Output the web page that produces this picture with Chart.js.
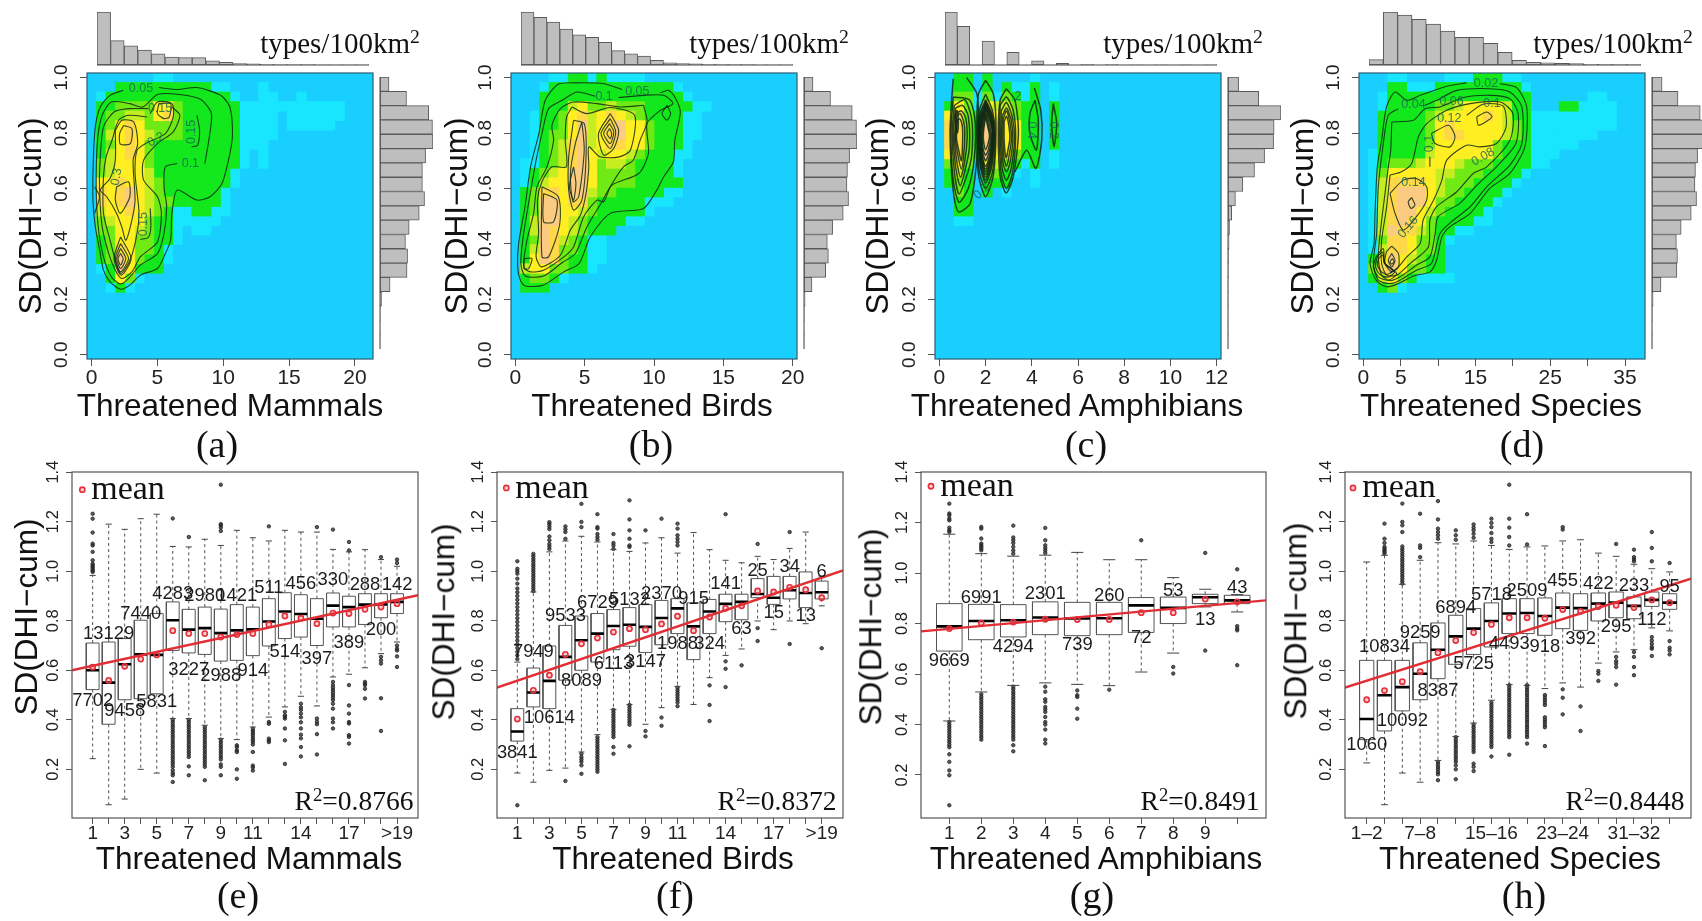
<!DOCTYPE html>
<html>
<head>
<meta charset="utf-8">
<title>SD(DHI-cum) vs threatened species</title>
<script src="https://cdn.jsdelivr.net/npm/chart.js@4/dist/chart.umd.min.js"></script>
<style>
html, body { margin: 0; padding: 0; background: #fff; overflow: hidden; }
#page { position: relative; width: 1702px; height: 921px; overflow: hidden; filter: blur(0.5px); }
#page canvas { position: absolute; }
.lab { position: absolute; white-space: nowrap; color: #111; transform: translate(-50%, -50%); line-height: 1; }
.sans { font-family: "Liberation Sans", Arial, sans-serif; }
.serif { font-family: "Liberation Serif", "Times New Roman", serif; }
.lab sup { font-size: 68%; line-height: 0; vertical-align: baseline; position: relative; top: -0.5em; }
</style>
</head>
<body>
<div id="page"></div>
<script>
// density levels, one string per row from the top, one digit per column. missing = 0
const levelColors = ['#19CFFF', '#18E6FF', '#12E81C', '#70EA14', '#C6EC22', '#FFEE22', '#FFD84A', '#FACB80'];

const gridMammals = [
  '00000001100000000000000000',
  '000222222222211000100000000000',
  '012222222222222100110010000000',
  '022333355322222211111111111000',
  '023344356322222211110111111000',
  '023565333322222211110111110000',
  '024565433322222211110000000000',
  '023565322222222211100000000000',
  '024565322222222210100000000000',
  '034555322222222210100000000000',
  '0345554222222221',
  '0556554322222221',
  '065675432222221',
  '065675433222221',
  '045565432112211',
  '03455532211111',
  '0335543221011',
  '0235533221',
  '023653321',
  '023753221',
  '01275222',
  '002531',
  '00121'
];
const gridBirds = [
  '000011221211110',
  '000122222222222221',
  '0002222222222222221',
  '000222453343332222211',
  '00122356456543222211',
  '00122357456755322211',
  '00123357456755322211',
  '0012346745665532221',
  '001234675455432 2211'.replace(' ', ''),
  '011234675344322221',
  '012345775333322221',
  '012455775333322222',
  '023665774332222211',
  '02377566322222111',
  '023775543222221',
  '02477543222211',
  '02476543222',
  '0237643211',
  '0247633211',
  '0257632211',
  '045533221',
  '023321',
  '0222'
];
const gridAmphibians = [
  '00220200001',
  '0022020211201',
  '0033131321201',
  '0253154432202',
  '0563275532202',
  '0663276552202',
  '0663276552202',
  '0663276552202',
  '0563275532201',
  '0353054321201',
  '02420332101',
  '02320222001',
  '00320201',
  '0022',
  '0022',
  '0011'
];
const gridSpecies = [
  '00011000011122211',
  '000221112222222221',
  '00122222222222222200000011',
  '001222223345555422000221111',
  '002222234555565422111111111',
  '002222235655555432111111111',
  '0022222356655554321111111',
  '00222223555555322211111',
  '012222245555553222111',
  '01233345554333222211',
  '013555554433322221',
  '01466665433322221',
  '0146777543322221',
  '0146777533222210',
  '01467754322221',
  '01467653222211',
  '014766432211',
  '0136653321',
  '014665332',
  '025754322',
  '036753322',
  '0245321111',
  '00231'
];

// contours in data units, flat x,y pairs
const contoursMammals = [
  [2.4,.954,1.4,.936,.66,.894,.28,.822,.13,.702,.1,.558,.28,.462,.66,.365,.9,.305,1.4,.263,2.2,.236,2.9,.251,3.7,.287,5,.311,5.6,.365,6,.413,6.1,.51,6.5,.594,8,.558,9,.57,9.9,.618,10.5,.726,10.7,.798,10.5,.894,9.8,.936,8,.964,6.5,.957,5.1,.964],
  [6.5,.69,5.6,.678,5.5,.606,5.7,.534,5.5,.438,5,.365,3.7,.323,2.8,.275,2.2,.255,1.5,.281,.9,.353,.5,.462,.35,.606,.45,.774,.8,.864,1.5,.912,2.9,.906,3.9,.894,5,.939,6.7,.939,8.3,.921,9.1,.87,8.9,.774,8.6,.69],
  [8,.864,8.2,.81,8.05,.756,7.6,.75],
  [4.3,.888,2.8,.888,1.7,.876,.9,.822,.66,.714,.6,.606,.8,.462,1.3,.365,1.8,.305,2.3,.275,3.06,.299,3.7,.353,5,.407,5.3,.51,5,.57,3.95,.63,3.95,.702,5,.762,6.2,.804,6.7,.864,6.1,.894],
  [4.45,.528,4.5,.461,4.3,.423,3.7,.416],
  [4.2,.858,2.8,.864,2.05,.846,1.55,.774,1.1,.714,.9,.642,.9,.51,1.4,.413,1.8,.341,2.2,.293,2.8,.329,3.3,.401,3.6,.51,3.3,.654,3.45,.738,4.1,.762,5.6,.798,6.2,.858,6.1,.906,5,.912,4.45,.87],
  [1.8,.81,2.3,.846,3.2,.84,3.5,.762,3.15,.702,3.3,.558,3.06,.486,2.6,.413,2.3,.46,1.9,.51,1.15,.57,.66,.594,1.4,.636,1.8,.702,1.8,.81],
  [2.43,.827,3.06,.816,2.94,.762,2.18,.76,2.13,.798,2.43,.827],
  [1.9,.606,2.8,.624,2.9,.57,2.18,.51,1.8,.558,1.9,.606],
  [5.1,.906,6,.906,5.9,.858,5.5,.852,5,.87,5.1,.906],
  [2.2,.425,3,.347,2.25,.287,1.7,.347,2.2,.425],
  [2.2,.401,2.8,.347,2.2,.299,1.8,.347,2.2,.401],
  [2.2,.383,2.6,.347,2.2,.311,1.9,.347,2.2,.383],
  [2.2,.365,2.4,.347,2.2,.323,2,.347,2.2,.365],
  [.23,.606,.6,.57,.23,.51]
];
const contoursBirds = [
  [7.7,.957,6.4,.978,4.45,.981,3.1,.976,2.16,.918,1.7,.798,1.1,.678,.7,.534,.24,.401,.17,.317,.36,.269,.72,.248,2,.251,3.5,.299,4.6,.329,5.4,.425,6.85,.51,9.25,.528,10.2,.594,10.7,.642,11.4,.696,11.5,.774,11.9,.876,11.5,.93,11.05,.954,10.45,.945],
  [5.77,.933,4.45,.948,3.37,.918,2.4,.888,1.92,.798,1.5,.702,1.08,.582,.6,.437,.4,.329,.72,.284,2.04,.284,3.37,.332,4.33,.365,5.17,.462,6.25,.552,6.97,.612,8.9,.654,9.6,.726,9.5,.834,10.46,.882,11.37,.906,10.7,.936,9.25,.936,7.45,.928],
  [9.25,.9,7.57,.894,5.9,.906,4.2,.912,3.25,.888,2.64,.828,2.76,.774,2.28,.678,1.56,.606,1.32,.51,.84,.413,.6,.317,1.08,.299,2.04,.305,3.5,.353,4.2,.389,4.93,.498,5.9,.558,6.37,.552,6.85,.606,7.8,.678,8.5,.702,9,.774,9.5,.84,9.25,.9],
  [4.09,.894,3.7,.858,3.6,.774,3.68,.678,2.64,.678,1.92,.624,1.6,.558,1.68,.437,1.5,.353,1.9,.317,3.25,.359,3.97,.45,4.7,.504,5.1,.582,5.3,.678,5.3,.75,6.1,.714,7.5,.714,8.3,.738,8.6,.864,6.85,.892,5.17,.87,4.09,.894],
  [6.85,.87,7.45,.81,7.1,.744,6.37,.72,6,.798,6.85,.87],
  [6.85,.852,7.24,.804,6.85,.744,6.18,.798,6.85,.852],
  [6.8,.834,7.1,.804,6.85,.762,6.37,.798,6.8,.834],
  [6.8,.816,6.95,.798,6.85,.78,6.6,.798,6.8,.816],
  [4.2,.846,4.97,.834,5.1,.714,4.8,.558,4.2,.522,3.85,.594,3.85,.714,4.2,.846],
  [4.8,.84,4.97,.738,4.57,.57,4.16,.552,3.97,.654,4.33,.762,4.8,.84],
  [4.2,.678,4.37,.618,4.2,.558,3.9,.606,4.2,.678],
  [2.04,.582,3,.558,2.76,.48,2.04,.48,2.04,.582],
  [1.92,.606,3.1,.57,3.2,.47,2.4,.353,1.92,.353,1.92,.606],
  [.65,.347,1.2,.347,.96,.311,.65,.311,.65,.347],
  [10.94,.9,11.2,.87,10.94,.846,10.58,.87,10.94,.9]
];
const contoursAmphibians = [
  [.6,.996,.53,.918,.46,.798,.58,.606,.82,.516,1.33,.546,1.59,.678,1.69,.834,1.62,.942,1.18,1],
  [.6,.93,.5,.8,.6,.63,.85,.55,1.25,.6,1.5,.7,1.55,.84,1.3,.92,.6,.93],
  [.65,.9,.55,.8,.65,.66,.85,.58,1.2,.65,1.4,.72,1.4,.85,1.1,.92,.65,.9],
  [.7,.89,.6,.8,.7,.68,.9,.61,1.15,.68,1.3,.75,1.25,.86,1,.9,.7,.89],
  [.72,.87,.66,.78,.75,.7,.92,.64,1.1,.7,1.2,.78,1.15,.85,.95,.88,.72,.87],
  [.75,.86,.7,.78,.8,.72,.95,.67,1.05,.72,1.1,.8,1.05,.84,.9,.87,.75,.86],
  [.78,.85,.74,.78,.83,.74,.95,.7,1,.75,1,.82,.9,.85,.78,.85],
  [.72,.88,.7,.84,.78,.8,.82,.84,.78,.88,.72,.88],
  [2,.99,2.34,.94,2.45,.82,2.34,.65,2,.57,1.69,.65,1.62,.83,1.69,.94,2,.99],
  [2,.94,2.3,.88,2.42,.8,2.3,.66,2,.6,1.73,.66,1.65,.8,1.72,.88,2,.94],
  [2,.92,2.27,.87,2.38,.8,2.27,.68,2,.62,1.77,.68,1.69,.8,1.76,.87,2,.92],
  [2,.915,2.26,.865,2.37,.8,2.26,.69,2,.63,1.78,.69,1.7,.8,1.78,.865,2,.915],
  [2,.91,2.25,.86,2.35,.8,2.25,.7,2,.64,1.8,.7,1.72,.8,1.8,.86,2,.91],
  [2,.905,2.23,.855,2.33,.8,2.23,.705,2,.65,1.82,.705,1.74,.8,1.82,.855,2,.905],
  [2,.9,2.22,.85,2.32,.8,2.22,.71,2,.66,1.83,.71,1.75,.8,1.84,.85,2,.9],
  [2,.895,2.21,.845,2.31,.8,2.2,.715,2,.67,1.84,.715,1.77,.8,1.85,.845,2,.895],
  [2,.89,2.2,.84,2.3,.8,2.18,.72,2,.68,1.85,.72,1.78,.8,1.86,.84,2,.89],
  [2,.88,2.17,.83,2.26,.79,2.15,.73,2,.7,1.88,.73,1.82,.79,1.88,.83,2,.88],
  [2,.87,2.14,.82,2.22,.79,2.12,.74,2,.72,1.9,.74,1.85,.79,1.9,.82,2,.87],
  [2,.86,2.1,.82,2.17,.79,2.1,.76,2,.74,1.93,.76,1.9,.79,1.93,.82,2,.86],
  [2.9,.96,3.27,.918,3.42,.798,3.2,.642,2.89,.584,2.63,.642,2.55,.798,2.63,.918,2.9,.96],
  [4.11,.963,4.39,.882,4.43,.774,4.18,.672,3.78,.738,3.27,.66],
  [4.14,.918,4.28,.846,4.2,.738,3.92,.798,3.92,.87,4.14,.918],
  [4.93,.906,5.08,.834,4.96,.75,4.86,.834,4.93,.906],
  [2.63,.9,2.9,.93,3.2,.88,3.3,.78,3.15,.65,2.9,.6,2.68,.65,2.6,.78,2.63,.9],
  [2.68,.88,2.9,.91,3.15,.86,3.25,.78,3.1,.67,2.9,.63,2.72,.67,2.65,.78,2.68,.88],
  [2.72,.86,2.9,.89,3.1,.85,3.18,.78,3.05,.69,2.9,.66,2.76,.69,2.7,.78,2.72,.86],
  [2.76,.85,2.9,.88,3.05,.84,3.12,.78,3,.71,2.9,.68,2.8,.71,2.75,.78,2.76,.85],
  [2.8,.84,2.9,.86,3,.83,3.05,.78,2.95,.73,2.9,.71,2.84,.73,2.8,.78,2.8,.84]
];
const contoursSpecies = [
  [13.8,.981,11.15,.969,7.6,.936,5.8,.918,4.24,.948,3.1,.894,2.45,.774,1.87,.678,1.56,.51,1.43,.401,.9,.329,1.7,.269,3.1,.245,4.7,.257,6.7,.284,8.9,.299,9.8,.341,10.5,.425,11.6,.462,14.3,.51,16.9,.6,19.6,.654,21.6,.75,21.85,.894,20.5,.964,18.3,.978],
  [4.7,.888,3.34,.864,2.67,.762,2,.606,1.78,.4375,1.34,.329,2,.269,3.57,.257,4.9,.269,7.1,.305,9.1,.329,10.25,.4375,11.8,.48,14.3,.534,16.5,.606,19.6,.684,21.2,.762,21.2,.894,19.6,.948,16.9,.96,12.5,.954,9.8,.918,8.25,.9],
  [3.8,.84,6.7,.846,8.25,.888,10.25,.894,13.4,.928,16.9,.936,19.6,.924,20.7,.87,20.4,.762,17.8,.678,15.2,.612,12.9,.546,10,.498,9.6,.4375,8.9,.353,7.1,.323,4.9,.281,3.57,.267,2.45,.287,2,.353,2.3,.45,2.9,.582,3.34,.678,3.66,.738,3.8,.84],
  [3.57,.648,5.1,.66,6.46,.69,7.36,.786,8.47,.834,11.15,.882,14.27,.906,18.3,.912,20,.87,19.6,.774,16.5,.678,14.7,.654,12.5,.588,9.8,.534,8.9,.486,8.7,.389,6.24,.329,4.46,.287,3.12,.287,2.45,.329,2.45,.413,3.12,.534,3.57,.648],
  [13.82,.864,16,.904,18.7,.897,19.1,.822,17.8,.762,15.6,.75,13.8,.756,11.15,.702,10.5,.63,9.4,.558,8,.486,7.6,.401,5.8,.353,4.7,.317,3.57,.293],
  [3.57,.582,5.35,.63,7.1,.636,8.47,.606,8.47,.558,7.1,.498,5.35,.45,4.24,.51,3.57,.582],
  [6.46,.567,6.9,.54,6.37,.528,6,.552,6.46,.567],
  [9.1,.798,11.4,.828,12.26,.786,11.6,.75,9.6,.762,9.1,.798],
  [15.16,.858,16.5,.876,17.2,.858,15.4,.828,15.16,.858],
  [8.9,.714,8.9,.678],
  [3.8,.392,4.7,.365,4.7,.317,3.8,.299,2.9,.329,3.1,.371,3.8,.392],
  [3.8,.365,4.24,.341,3.8,.317,3.34,.341,3.8,.365],
  [3.9,.347,4.1,.335,3.8,.327,3.57,.335,3.9,.347],
  [1.7,.353,2.67,.383,2.9,.329,4.46,.293,3.34,.269,2,.281,1.34,.317,1.7,.353],
  [1.9,.355,2.6,.37,2.85,.33,4.2,.3,3.3,.28,2.2,.29,1.6,.32,1.9,.355],
  [2.1,.35,2.6,.36,2.8,.33,3.9,.305,3.2,.29,2.4,.3,1.85,.325,2.1,.35]
];

// small labels sitting on the contours: text, x, y, rotation
const contourLabelsMammals = [['0.05',3.75,.959,0],['0.15',5.2,.888,0],['0.2',4.9,.776,-30],['0.15',7.6,.804,-90],['0.1',7.5,.69,0],['0.3',1.9,.642,-80],['0.15',3.95,.471,-90]];
const contourLabelsBirds = [['0.1',6.4,.93,0],['0.05',8.8,.948,0]];
const contourLabelsAmphibians = [['2',3.4,.93,0],['0.4',4,.81,90],['0.2',4.92,.81,90],['0.2',1.83,.59,-45]];
const contourLabelsSpecies = [['0.02',16.4,.978,0],['0.04',6.7,.903,0],['0.06',11.8,.915,0],['0.1',17.2,.906,0],['0.12',11.5,.852,0],['0.14',6.7,.62,0],['0.16',6,.46,-50],['0.08',16,.714,-30],['0.1',8.9,.762,-90]];

// marginal histograms, relative frequency
const topMammals = [100,46,36,28,21,15,14,14,8,5,2.5,2,1.5,1,1,.7,.5,.5,.3,.3];
const topBirds = [100,90,81,68,57,52,43,27,21,17,9,4,2.5,2,1.2,.6,.6,.6,.3,.3,.3];
const topAmphibians = [100,73,0,45,0,24,0,8,0,3,0,1.2,0,.6,0,.4,0,.2,0,.2,0,.2];
const topSpecies = [10,100,94,86,77,64,52,52,41,24,9,5,4,3,2.5,1.2,1.2,.6,.6];
const rightMammals = [17,50,92,99,100,86,80,80,84,74,55,48,52,51,19,3,.6,.3,.3];
const rightBirds = [17,50,91,99,100,86,82,81,84,74,54,44,46,41,15,2,.6,.3,.3];
const rightAmphibians = [20,58,100,87,86,69,50,28,14,7,3,2,1.2,.6,.3,.3,.2,.2,.2];
const rightSpecies = [19,49,91,99,100,86,82,81,84,74,55,46,48,47,17,2,.6,.3,.3];

// boxplots
const mammalQ1 = [.522,.382,.481,.485,.505,.68,.67,.664,.637,.64,.659,.698,.728,.734,.7,.775,.775,.785,.812,.829];
const mammalMedian = [.6,.55,.624,.664,.662,.802,.764,.77,.75,.761,.765,.797,.837,.827,.808,.861,.855,.865,.866,.876];
const mammalQ3 = [.71,.714,.728,.802,.829,.876,.846,.855,.847,.865,.855,.889,.913,.905,.889,.912,.899,.909,.909,.909];
const mammalLow = [.243,.057,.08,.2,.185,.405,.405,.378,.324,.32,.371,.411,.452,.495,.456,.573,.584,.61,.667,.714];
const mammalHigh = [.983,1.19,1.169,1.212,1.23,1.1,1.098,1.129,1.104,1.165,1.135,1.122,1.165,1.158,1.158,1.088,1.078,1.087,1.047,1.02];
const mammalMean = [.613,.559,.616,.645,.662,.76,.748,.748,.734,.744,.748,.785,.819,.81,.788,.831,.829,.846,.855,.869];
const mammalOut = [
  [1.232,1.212,1.156,1.111,1.104,1.078,1.044,1.03,1.023,1.017,1.01,1.003,.997],[],[],[],[],
  [1.213,.4,.39,.38,.37,.36,.35,.34,.33,.32,.31,.3,.29,.28,.27,.26,.25,.24,.23,.22,.21,.196,.185,.176,.149],
  [1.138,.4,.39,.38,.37,.36,.35,.34,.33,.32,.31,.3,.29,.28,.27,.26,.25,.212,.176],
  [.37,.36,.35,.34,.33,.32,.31,.3,.29,.28,.27,.26,.25,.24,.23,.22,.21,.156],
  [1.349,1.19,1.185,1.176,1.162,.32,.31,.3,.29,.28,.27,.26,.25,.24,.22,.21,.176],
  [.297,.29,.277,.27,.2,.162],
  [.364,.355,.346,.337,.328,.319,.31,.3,.27,.215,.208,.195],
  [1.181,.391,.384,.324,.317,.31],
  [.432,.418,.412,.405,.365,.317,.222],
  [.465,.45,.44,.425,.41,.39,.365,.34,.325,.29,.252],
  [1.178,.405,.392,.382,.342,.26],
  [1.168,.553,.54,.53,.52,.51,.5,.49,.48,.465,.445,.405,.39,.365],
  [1.118,1.084,.54,.458,.425,.391,.385,.338,.331,.304],
  [.553,.546,.54,.525,.486],
  [1.057,.654,.64,.627,.487,.355],
  [1.047,1.033,.7,.687,.68,.656,.613]
];
const mammalCount = [7702,13129,9458,7440,5831,4283,3227,2980,2988,1421,914,511,514,456,397,330,389,288,200,142];
const mammalCountY = [.476,.748,.434,.829,.472,.909,.602,.899,.577,.901,.596,.933,.676,.947,.647,.963,.711,.943,.761,.943];

const birdQ1 = [.314,.452,.445,.56,.6,.633,.683,.697,.672,.703,.748,.643,.748,.796,.804,.893,.866,.888,.853,.888];
const birdMedian = [.353,.51,.557,.654,.721,.748,.779,.784,.775,.811,.85,.777,.837,.868,.876,.908,.893,.923,.912,.915];
const birdQ3 = [.445,.609,.698,.781,.819,.829,.845,.853,.865,.882,.889,.872,.886,.907,.907,.97,.979,.979,.997,.96];
const birdLow = [.185,.148,.196,.205,.27,.34,.442,.462,.382,.449,.535,.462,.57,.66,.686,.799,.764,.799,.788,.86];
const birdHigh = [.633,.916,1.078,1.122,1.141,1.118,1.087,1.08,1.114,1.135,1.073,1.156,1.087,1.044,1.034,1.06,1.047,1.092,1.158,.98];
const birdMean = [.403,.519,.58,.664,.707,.73,.754,.768,.764,.787,.818,.76,.815,.85,.86,.92,.916,.935,.925,.893];
const birdOut = [
  [1.04,1.01,1,.99,.97,.95,.93,.915,.9,.885,.87,.855,.84,.825,.81,.795,.78,.765,.75,.735,.72,.705,.69,.675,.66,.645,.055],
  [1.07,1.06,1.05,1.04,1.03,1.02,1.01,1,.99,.98,.97,.96,.95,.94,.93,.92],
  [1.198,1.19,1.18,1.17,1.14,1.125,1.11,1.1,1.09],
  [1.181,1.169,1.158,1.131,.153],
  [1.272,1.199,1.178,.263,.25,.24,.23,.216,.182],
  [1.23,1.178,1.172,1.15,1.138,1.127,.33,.32,.31,.3,.29,.28,.27,.26,.25,.24,.23,.22,.21,.2,.19],
  [1.15,1.114,1.104,1.09,.44,.43,.42,.41,.4,.39,.38,.37,.36,.35,.34,.33,.29,.263],
  [1.286,1.209,1.165,1.131,1.104,1.098,.46,.45,.44,.43,.42,.41,.4,.39,.38,.293],
  [1.165,.355,.333],
  [1.212,.409,.376],
  [1.192,1.172,1.145,1.131,1.118,1.104,.53,.52,.51,.5,.49,.48,.47,.455],
  [],
  [.539,.46,.395],
  [1.23,.636,.606,.532],
  [.62],
  [1.11,.77,.718],
  [],
  [1.158,.706],
  [],
  [.689]
];
const birdCount = [3841,7949,10614,9533,8089,6729,6113,5132,3147,2370,1988,915,324,141,63,25,15,34,13,6];
const birdCountY = [.266,.674,.409,.819,.555,.872,.627,.882,.633,.907,.707,.889,.707,.947,.765,1.003,.833,1.017,.819,.997];

const amphibianQ1 = [.691,.736,.747,.756,.752,.756,.765,.8,.879,.879];
const amphibianMedian = [.789,.81,.813,.824,.82,.821,.872,.862,.904,.892];
const amphibianQ3 = [.879,.876,.875,.886,.884,.884,.903,.905,.916,.912];
const amphibianLow = [.414,.529,.555,.565,.559,.554,.608,.683,.866,.846];
const amphibianHigh = [1.154,1.077,1.067,1.071,1.082,1.053,1.053,.982,.936,.915];
const amphibianMean = [.78,.802,.806,.817,.816,.816,.843,.843,.897,.886];
const amphibianOut = [
  [1.275,1.236,1.229,1.216,1.209,1.18,1.17,1.163,.41,.4,.39,.38,.37,.36,.35,.34,.33,.32,.31,.282,.252,.218,.199,.08],
  [1.183,1.176,1.137,1.117,1.11,1.104,1.097,1.09,.52,.51,.5,.49,.48,.47,.46,.45,.44,.43,.42,.41,.4,.39,.38,.37,.36,.35,.34],
  [1.188,1.141,1.13,1.119,1.104,1.09,1.077,.55,.54,.53,.52,.51,.5,.49,.48,.47,.46,.45,.44,.43,.42,.41,.4,.39,.38,.37,.36,.35,.34,.318,.294],
  [1.179,1.13,1.11,1.1,1.09,1.08,.55,.53,.5,.49,.47,.46,.45,.43,.41,.4,.38,.34,.325],
  [.535,.516,.509,.463,.423],
  [.538],
  [1.13],
  [.628,.602],
  [1.08,.693],
  [1.015,.79,.78,.773,.635]
];
const amphibianCount = [9669,6991,4294,2301,739,260,72,53,13,43];
const amphibianCountY = [.652,.901,.707,.919,.714,.909,.744,.928,.816,.942];

const speciesQ1 = [.32,.355,.436,.481,.566,.624,.664,.694,.748,.748,.741,.768,.761,.799,.812,.808,.858,.846];
const speciesMedian = [.403,.499,.532,.586,.683,.737,.768,.799,.829,.831,.819,.853,.851,.869,.873,.86,.884,.873];
const speciesQ3 = [.64,.64,.64,.711,.791,.822,.849,.872,.889,.889,.892,.912,.909,.912,.916,.896,.916,.909];
const speciesLow = [.226,.057,.185,.148,.236,.333,.387,.479,.542,.539,.526,.549,.532,.629,.674,.683,.771,.759];
const speciesHigh = [1.037,1.064,.947,1.044,1.115,1.11,1.122,1.104,1.088,1.098,1.102,1.122,1.127,1.073,1.06,1.028,1.01,.997];
const speciesMean = [.481,.518,.554,.594,.671,.72,.752,.785,.812,.812,.81,.845,.838,.857,.862,.853,.884,.873];
const speciesOut = [
  [],
  [1.192,1.131,1.114,1.098,1.091,1.084,1.078,1.071],
  [1.273,1.199,1.185,1.158,1.1,1.09,1.08,1.07,1.06,1.05,1.04,1.03,1.02,1.01,1,.99,.98,.97,.96,.95],
  [1.232,1.104,1.094,1.057],
  [1.283,1.209,1.172,1.158,1.145,1.131,.23,.22,.21,.2,.19,.18,.156],
  [1.165,1.145,1.127,.33,.32,.31,.3,.29,.28,.27,.26,.25,.24,.23,.216,.2,.16],
  [1.189,1.176,1.165,1.151,1.135,.38,.37,.36,.35,.34,.33,.32,.31,.3,.29,.28,.27,.223,.21,.193],
  [1.212,1.195,1.178,1.154,1.131,1.118,.47,.46,.45,.44,.43,.42,.41,.4,.39,.38,.37,.36,.35,.34,.33,.32,.31,.3,.29,.252],
  [1.349,1.212,1.176,1.138,1.104,.54,.53,.52,.51,.5,.49,.48,.47,.46,.45,.44,.43,.42,.41,.4,.39,.38,.37,.36,.35,.34,.33,.259],
  [1.23,1.108,.54,.53,.52,.51,.5,.49,.48,.47,.46,.45,.44,.43,.42,.41,.4,.39,.38,.37,.36,.35,.34,.33,.304],
  [.5,.49,.48,.47,.46,.41,.4,.39,.38,.37,.294],
  [1.178,1.168,.523,.489,.422],
  [.454,.355],
  [.597,.586,.557],
  [1.11,.654,.637,.627,.613,.542],
  [1.087,1.057,1.048,1.04,.674,.654,.613,.58],
  [1.158,1.094,1.04,.734,.72,.707,.694,.687,.658],
  [1.033,.718,.691,.68,.664]
];
const speciesCount = [1060,10834,10092,9259,8387,6894,5725,5718,4493,2509,918,455,392,422,295,233,112,95];
const speciesCountY = [.3,.694,.395,.75,.516,.853,.624,.905,.705,.92,.694,.959,.725,.947,.775,.939,.802,.936];

// regression lines: x, y at both ends of the plot
const fitMammals = [-.29,.6,21.31,.903];
const fitBirds = [-.27,.53,21.33,1.003];
const fitAmphibians = [.115,.769,10.9,.892];
const fitSpecies = [-.217,.53,19.2,.97];

const page = document.getElementById('page');
const marginT = 20, marginR = 24;
const heatYMin = -.0155, heatYMax = 1.0166;

function addText(html, x, y, size, family, rot) {
    const el = document.createElement('div');
    el.className = 'lab ' + family;
    el.innerHTML = html;
    el.style.left = x + 'px';
    el.style.top = y + 'px';
    el.style.fontSize = size + 'px';
    if (rot) el.style.transform = 'translate(-50%, -50%) rotate(' + rot + 'deg)';
    page.appendChild(el);
}

function addCanvas(left, top, w, h) {
    const c = document.createElement('canvas');
    c.width = w;
    c.height = h;
    c.style.left = left + 'px';
    c.style.top = top + 'px';
    c.style.width = w + 'px';
    c.style.height = h + 'px';
    page.appendChild(c);
    return c;
}

// outline of the plot area
const framePlugin = (color) => ({
    id: 'frame',
    afterDraw(chart) {
        const a = chart.chartArea, ctx = chart.ctx;
        ctx.save();
        ctx.strokeStyle = color;
        ctx.lineWidth = 1.2;
        ctx.strokeRect(a.left, a.top, a.right - a.left, a.bottom - a.top);
        ctx.restore();
    }
});

// text at data positions
const notesPlugin = (items, font, color) => ({
    id: 'notes',
    afterDatasetsDraw(chart) {
        const ctx = chart.ctx, sx = chart.scales.x, sy = chart.scales.y;
        ctx.save();
        ctx.font = font;
        ctx.fillStyle = color;
        ctx.textAlign = 'center';
        ctx.textBaseline = 'middle';
        items.forEach(([t, x, y, rot]) => {
            ctx.save();
            ctx.translate(sx.getPixelForValue(x), sy.getPixelForValue(y));
            if (rot) ctx.rotate(rot * Math.PI / 180);
            ctx.fillText(t, 0, 0);
            ctx.restore();
        });
        ctx.restore();
    }
});

// shared axes with R look: fixed margins so the plot area lands where it should
function axes(o) {
    return {
        x: {
            type: 'linear', min: o.xMin, max: o.xMax,
            afterBuildTicks: s => { s.ticks = o.xTicks.map(v => ({ value: v })); },
            afterFit: s => { s.height = o.marginB; },
            grid: { drawOnChartArea: false, tickLength: o.tick, color: '#555' },
            border: { display: false },
            ticks: {
                autoSkip: false, maxRotation: 0, minRotation: 0, padding: o.xPad, color: '#222',
                font: { family: 'Liberation Sans', size: o.xFont },
                callback: v => (o.xLabels[v] !== undefined ? o.xLabels[v] : '')
            }
        },
        y: {
            type: 'linear', min: o.yMin, max: o.yMax,
            afterBuildTicks: s => { s.ticks = o.yTicks.map(v => ({ value: v })); },
            afterFit: s => { s.width = o.marginL; },
            grid: { drawOnChartArea: false, tickLength: o.tick, color: '#555' },
            border: { display: false },
            ticks: {
                autoSkip: false, minRotation: 90, maxRotation: 90, crossAlign: 'center', padding: o.yPad, color: '#222',
                font: { family: 'Liberation Sans', size: o.yFont },
                callback: v => v.toFixed(1)
            }
        }
    };
}

function pairs(flat) {
    const out = [];
    for (let i = 0; i < flat.length; i += 2) out.push({ x: flat[i], y: flat[i + 1] });
    return out;
}

function baseOptions(scales) {
    return {
        responsive: false, animation: false, events: [],
        layout: { padding: { top: marginT, right: marginR, left: 0, bottom: 0 } },
        plugins: { legend: { display: false }, tooltip: { enabled: false } },
        scales: scales
    };
}

function heatChart(p) {
    const marginL = 60, marginB = 40;
    const canvas = addCanvas(p.l - marginL, p.t - marginT, 286 + marginL + marginR, 286 + marginT + marginB);
    const dx = (p.xMax - p.xMin) / 30, dy = (heatYMax - heatYMin) / 30;
    const cells = levelColors.map(() => []);
    for (let r = 0; r < 30; r++) {
        const row = p.grid[r] || '';
        for (let c = 0; c < 30; c++) {
            const level = Number(row[c] || 0);
            cells[level].push({ x: p.xMin + (c + .5) * dx, y: heatYMax - (r + .5) * dy });
        }
    }
    const datasets = p.contours.map(line => ({
        data: pairs(line), showLine: true, pointRadius: 0, tension: .25,
        borderColor: 'rgba(15,40,20,.85)', borderWidth: p.lineWidth || 1.1, order: 0
    }));
    // lowest levels first on screen, so brighter cells sit on top of the overlap
    cells.forEach((pts, i) => datasets.push({
        data: pts, pointStyle: 'rect', pointRadius: 7.3, pointBorderWidth: 0,
        backgroundColor: levelColors[i], borderColor: levelColors[i], order: 20 - i
    }));
    new Chart(canvas, {
        type: 'scatter',
        data: { datasets },
        options: baseOptions(axes({
            xMin: p.xMin, xMax: p.xMax, yMin: heatYMin, yMax: heatYMax,
            xTicks: p.xTicks, xLabels: p.xLabels, yTicks: [0, .2, .4, .6, .8, 1],
            marginL, marginB, tick: 7, xPad: 0, yPad: 5, xFont: 21, yFont: 19
        })),
        plugins: [framePlugin('#2f5c72'), notesPlugin(p.notes, '12.5px "Liberation Sans"', 'rgba(25,105,85,.85)')]
    });
}

function histChart(left, top, w, h, values, horizontal) {
    const canvas = addCanvas(left - 1, top - 1, w + 3, h + 3);
    new Chart(canvas, {
        type: 'bar',
        data: {
            labels: values.map((v, i) => i + 1),
            datasets: [{
                data: values, backgroundColor: '#BEBEBE', borderColor: '#5a5a5a', borderWidth: 1,
                borderSkipped: false, barPercentage: 1, categoryPercentage: 1
            }]
        },
        options: {
            responsive: false, animation: false, events: [],
            indexAxis: horizontal ? 'y' : 'x',
            layout: { padding: { top: 1, left: 1, right: 2, bottom: 2 } },
            plugins: { legend: { display: false }, tooltip: { enabled: false } },
            scales: {
                x: horizontal ? { display: false, min: 0, max: 100 } : { display: false },
                y: horizontal ? { display: false } : { display: false, min: 0, max: 100 }
            }
        },
        plugins: [{
            id: 'baseline',
            afterDraw(chart) {
                const a = chart.chartArea, ctx = chart.ctx;
                ctx.save();
                ctx.strokeStyle = '#444';
                ctx.lineWidth = 1;
                ctx.beginPath();
                if (horizontal) { ctx.moveTo(a.left, a.top); ctx.lineTo(a.left, a.bottom); }
                else { ctx.moveTo(a.left, a.bottom); ctx.lineTo(a.right, a.bottom); }
                ctx.stroke();
                ctx.restore();
            }
        }]
    });
}

function boxChart(p) {
    const marginL = 50, marginB = 40;
    const canvas = addCanvas(p.l - marginL, p.t - marginT, p.w + marginL + marginR, 346 + marginT + marginB);
    const gap = { x: NaN, y: NaN };
    const boxes = [], whiskers = [], caps = [], medians = [], outliers = [], means = [];
    p.q1.forEach((q1, i) => {
        const x = i + 1, q3 = p.q3[i], hw = .4, cw = .19;
        boxes.push({ x: x - hw, y: q1 }, { x: x + hw, y: q1 }, { x: x + hw, y: q3 }, { x: x - hw, y: q3 }, { x: x - hw, y: q1 }, gap);
        whiskers.push({ x, y: q3 }, { x, y: p.high[i] }, gap, { x, y: q1 }, { x, y: p.low[i] }, gap);
        caps.push({ x: x - cw, y: p.high[i] }, { x: x + cw, y: p.high[i] }, gap, { x: x - cw, y: p.low[i] }, { x: x + cw, y: p.low[i] }, gap);
        medians.push({ x: x - hw, y: p.median[i] }, { x: x + hw, y: p.median[i] }, gap);
        means.push({ x, y: p.mean[i] });
        p.out[i].forEach(v => outliers.push({ x, y: v }));
    });
    means.push({ x: p.legendX, y: p.legendY });
    const line = (data, color, width, dash) => ({
        data, showLine: true, pointRadius: 0, borderColor: color, borderWidth: width, borderDash: dash || [], spanGaps: false
    });
    const ticks = p.q1.map((v, i) => i + 1);
    new Chart(canvas, {
        type: 'scatter',
        data: {
            datasets: [
                { data: means, pointRadius: 2.6, borderColor: '#E5303C', backgroundColor: 'rgba(230,50,60,.25)', pointBorderWidth: 1.6 },
                line(pairs(p.fit), '#E02E34', 2.4),
                line(medians, '#000', 2.6),
                line(boxes, '#555', 1),
                line(caps, '#444', 1),
                line(whiskers, '#555', 1, [3, 3]),
                { data: outliers, pointRadius: 1.7, borderColor: '#2a2a2a', backgroundColor: 'rgba(40,40,40,.75)', pointBorderWidth: .9 }
            ]
        },
        options: baseOptions(axes({
            xMin: p.xMin, xMax: p.xMax, yMin: p.yMin, yMax: 1.4005,
            xTicks: ticks, xLabels: p.xLabels, yTicks: [.2, .4, .6, .8, 1, 1.2, 1.4],
            marginL, marginB, tick: 6, xPad: -2, yPad: 1, xFont: 19, yFont: 16.5
        })),
        plugins: [framePlugin('#555'), notesPlugin(p.counts, '18.4px "Liberation Sans"', '#1c1c1c')]
    });
}

function countNotes(counts, ys) {
    return counts.map((n, i) => [String(n), i + 1, ys[i], 0]);
}

// top row
heatChart({
    l: 87, t: 73, xMin: -.35, xMax: 21.37, grid: gridMammals, contours: contoursMammals, notes: contourLabelsMammals,
    xTicks: [0, 5, 10, 15, 20], xLabels: { 0: '0', 5: '5', 10: '10', 15: '15', 20: '20' }
});
heatChart({
    l: 511, t: 73, xMin: -.31, xMax: 20.31, grid: gridBirds, contours: contoursBirds, notes: contourLabelsBirds,
    xTicks: [0, 5, 10, 15, 20], xLabels: { 0: '0', 5: '5', 10: '10', 15: '15', 20: '20' }
});
heatChart({
    l: 935, t: 73, xMin: -.19, xMax: 12.19, grid: gridAmphibians, contours: contoursAmphibians, notes: contourLabelsAmphibians,
    xTicks: [0, 2, 4, 6, 8, 10, 12], xLabels: { 0: '0', 2: '2', 4: '4', 6: '6', 8: '8', 10: '10', 12: '12' }, lineWidth: 1.5
});
heatChart({
    l: 1359, t: 73, xMin: -.58, xMax: 37.67, grid: gridSpecies, contours: contoursSpecies, notes: contourLabelsSpecies,
    xTicks: [0, 5, 10, 15, 20, 25, 30, 35], xLabels: { 0: '0', 5: '5', 15: '15', 25: '25', 35: '35' }
});

histChart(97, 12, 272, 53, topMammals, false);
histChart(521, 12, 272, 53, topBirds, false);
histChart(945, 12, 272, 53, topAmphibians, false);
histChart(1369, 12, 272, 53, topSpecies, false);
histChart(380, 77, 53, 272, rightMammals, true);
histChart(804, 77, 53, 272, rightBirds, true);
histChart(1228, 77, 53, 272, rightAmphibians, true);
histChart(1652, 77, 53, 272, rightSpecies, true);

// bottom row
boxChart({
    l: 72, t: 472, w: 346, xMin: -.29, xMax: 21.31, yMin: .0035, legendX: .354, legendY: 1.329,
    q1: mammalQ1, median: mammalMedian, q3: mammalQ3, low: mammalLow, high: mammalHigh, mean: mammalMean, out: mammalOut,
    fit: fitMammals, counts: countNotes(mammalCount, mammalCountY),
    xLabels: { 1: '1', 3: '3', 5: '5', 7: '7', 9: '9', 11: '11', 14: '14', 17: '17', 20: '>19' }
});
boxChart({
    l: 497, t: 472, w: 346, xMin: -.27, xMax: 21.33, yMin: .0035, legendX: .31, legendY: 1.336,
    q1: birdQ1, median: birdMedian, q3: birdQ3, low: birdLow, high: birdHigh, mean: birdMean, out: birdOut,
    fit: fitBirds, counts: countNotes(birdCount, birdCountY),
    xLabels: { 1: '1', 3: '3', 5: '5', 7: '7', 9: '9', 11: '11', 14: '14', 17: '17', 20: '>19' }
});
boxChart({
    l: 921, t: 472, w: 345, xMin: .115, xMax: 10.9, yMin: .0296, legendX: .427, legendY: 1.344,
    q1: amphibianQ1, median: amphibianMedian, q3: amphibianQ3, low: amphibianLow, high: amphibianHigh, mean: amphibianMean, out: amphibianOut,
    fit: fitAmphibians, counts: countNotes(amphibianCount, amphibianCountY),
    xLabels: { 1: '1', 2: '2', 3: '3', 4: '4', 5: '5', 6: '6', 7: '7', 8: '8', 9: '9' }
});
boxChart({
    l: 1345, t: 472, w: 346, xMin: -.217, xMax: 19.2, yMin: .0035, legendX: .232, legendY: 1.336,
    q1: speciesQ1, median: speciesMedian, q3: speciesQ3, low: speciesLow, high: speciesHigh, mean: speciesMean, out: speciesOut,
    fit: fitSpecies, counts: countNotes(speciesCount, speciesCountY),
    xLabels: { 1: '1\u20132', 4: '7\u20138', 8: '15\u201316', 12: '23\u201324', 16: '31\u201332' }
});

// titles and captions
const yTitle = 'SD(DHI\u2212cum)';
[[31, 216], [457, 216], [878, 216], [1303, 216], [27, 617], [444, 622], [871, 627], [1296, 621]].forEach(([x, y]) => addText(yTitle, x, y, 31.5, 'sans', -90));
[['Threatened Mammals', 230, 406], ['Threatened Birds', 652, 406], ['Threatened Amphibians', 1077, 406], ['Threatened Species', 1501, 406],
 ['Threatened Mammals', 249, 859], ['Threatened Birds', 673, 859], ['Threatened Amphibians', 1096, 859], ['Threatened Species', 1520, 859]]
    .forEach(([t, x, y]) => addText(t, x, y, 31.5, 'sans'));
[['(a)', 217, 444], ['(b)', 651, 444], ['(c)', 1086, 444], ['(d)', 1522, 444], ['(e)', 238, 895], ['(f)', 675, 895], ['(g)', 1092, 895], ['(h)', 1524, 895]]
    .forEach(([t, x, y]) => addText(t, x, y, 38, 'serif'));
[340, 769, 1183, 1613].forEach(x => addText('types/100km<sup>2</sup>', x, 43, 29, 'serif'));
[[128, 488], [552, 487], [977, 485], [1399, 486]].forEach(([x, y]) => addText('mean', x, y, 34, 'serif'));
[['0.8766', 354], ['0.8372', 777], ['0.8491', 1200], ['0.8448', 1625]].forEach(([r, x]) => addText('R<sup>2</sup>=' + r, x, 801, 27.5, 'serif'));
</script>
</body>
</html>
